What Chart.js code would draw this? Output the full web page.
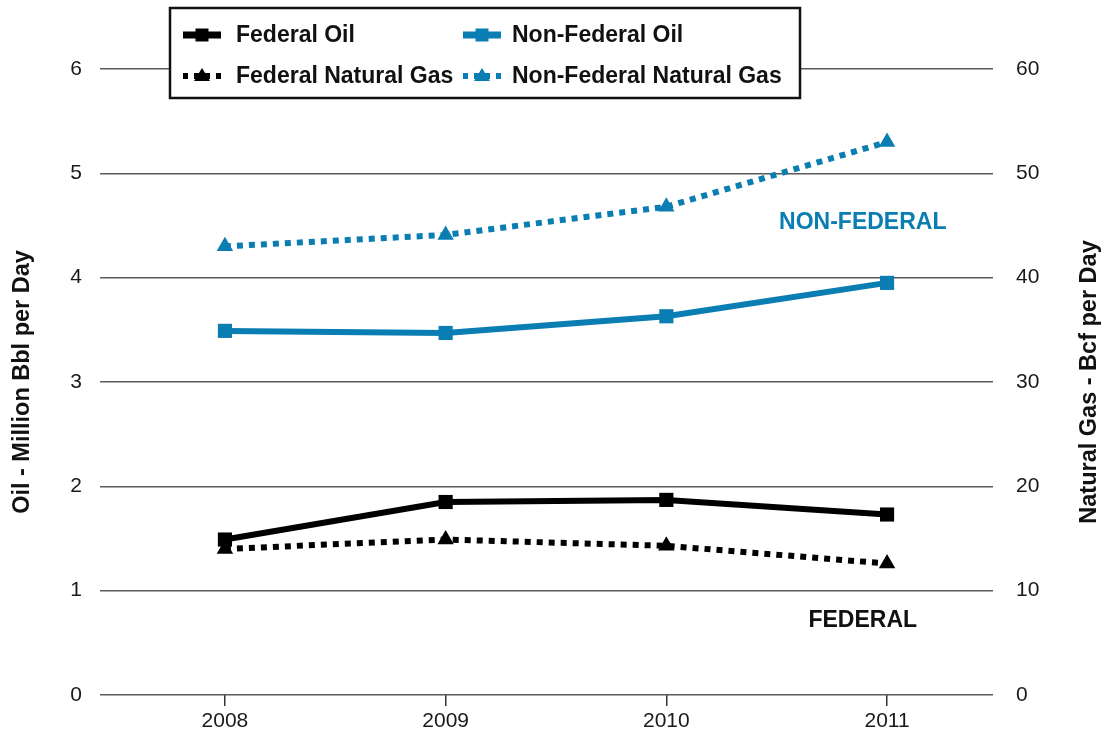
<!DOCTYPE html>
<html>
<head>
<meta charset="utf-8">
<script src="https://cdn.jsdelivr.net/npm/chart.js@4/dist/chart.umd.min.js"></script>
<style>
    html, body { margin: 0; padding: 0; background: #fff; }
    .chart-wrap { position: relative; width: 1104px; height: 741px; }
</style>
</head>
<body>
<div class="chart-wrap"><canvas id="productionChart"></canvas></div>
<script>
const years = [2008, 2009, 2010, 2011];
const federalOil = [1.49, 1.85, 1.87, 1.73];
const nonFederalOil = [3.49, 3.47, 3.63, 3.95];
const federalGas = [14.0, 14.9, 14.3, 12.6];
const nonFederalGas = [43.0, 44.1, 46.8, 53.0];
const oilTicks = [0, 1, 2, 3, 4, 5, 6];
const gasTicks = [0, 10, 20, 30, 40, 50, 60];

const oilAxisTitle = 'Oil - Million Bbl per Day';
const gasAxisTitle = 'Natural Gas - Bcf per Day';

const BLUE = '#0a7db2';
const BLACK = '#000';
const FONT = '"Liberation Sans", Arial, Helvetica, sans-serif';

const annotations = [
    { text: 'NON-FEDERAL', year: 2010.89, value: 4.53, color: BLUE },
    { text: 'FEDERAL', year: 2010.89, value: 0.71, color: '#111' }
];

function toPoints(values) {
    return years.map((year, i) => ({ x: year, y: values[i] }));
}

function oilLine(label, values, color) {
    return {
        label,
        data: toPoints(values),
        yAxisID: 'y',
        borderColor: color,
        backgroundColor: color,
        borderWidth: 6,
        pointStyle: 'rect',
        pointRadius: 10,
        pointHoverRadius: 10,
        pointBorderWidth: 0,
        tension: 0
    };
}

function gasLine(label, values, color) {
    return {
        label,
        data: toPoints(values),
        yAxisID: 'y1',
        borderColor: color,
        backgroundColor: color,
        borderWidth: 6,
        borderDash: [6, 6],
        borderCapStyle: 'butt',
        pointStyle: 'triangle',
        pointRadius: 9.5,
        pointHoverRadius: 9.5,
        pointBorderWidth: 0,
        tension: 0
    };
}

// boxed two-column legend drawn over the top gridline
const boxLegend = {
    id: 'boxLegend',
    afterDraw(chart) {
        const ctx = chart.ctx;
        const box = { left: 170, top: 8, width: 630, height: 90 };
        const cols = [{ sym: 183, text: 236 }, { sym: 463, text: 512 }];
        const rows = [35, 76];
        ctx.save();
        ctx.fillStyle = '#fff';
        ctx.fillRect(box.left, box.top, box.width, box.height);
        ctx.lineWidth = 2.5;
        ctx.strokeStyle = '#111';
        ctx.strokeRect(box.left, box.top, box.width, box.height);

        chart.data.datasets.forEach((ds, i) => {
            const col = cols[i % 2];
            const y = rows[Math.floor(i / 2)];
            const x0 = col.sym;
            const x1 = col.sym + 38;
            const cx = (x0 + x1) / 2;

            ctx.strokeStyle = ds.borderColor;
            ctx.fillStyle = ds.borderColor;
            ctx.lineWidth = ds.borderDash ? 6 : 7;
            ctx.setLineDash(ds.borderDash ? [5, 6] : []);
            ctx.beginPath();
            ctx.moveTo(x0, y);
            ctx.lineTo(x1, y);
            ctx.stroke();
            ctx.setLineDash([]);

            ctx.beginPath();
            if (ds.pointStyle === 'rect') {
                ctx.rect(cx - 6.5, y - 6.5, 13, 13);
            } else {
                ctx.moveTo(cx, y - 8);
                ctx.lineTo(cx + 8, y + 5);
                ctx.lineTo(cx - 8, y + 5);
                ctx.closePath();
            }
            ctx.fill();

            ctx.fillStyle = '#111';
            ctx.font = `bold 23px ${FONT}`;
            ctx.textAlign = 'left';
            ctx.textBaseline = 'middle';
            ctx.fillText(ds.label, col.text, y + 1);
        });
        ctx.restore();
    }
};

// text labels inside the plot and the right axis title (reads bottom to top)
const chartText = {
    id: 'chartText',
    afterDatasetsDraw(chart) {
        const ctx = chart.ctx;
        const xScale = chart.scales.x;
        const yScale = chart.scales.y;
        ctx.save();
        ctx.font = `bold 23px ${FONT}`;
        ctx.textAlign = 'center';
        ctx.textBaseline = 'middle';
        annotations.forEach(a => {
            ctx.fillStyle = a.color;
            ctx.fillText(a.text, xScale.getPixelForValue(a.year), yScale.getPixelForValue(a.value));
        });

        const right = chart.scales.y1;
        ctx.font = `bold 23.5px ${FONT}`;
        ctx.translate(right.right - 14, (right.top + right.bottom) / 2);
        ctx.rotate(-Math.PI / 2);
        ctx.fillStyle = '#111';
        ctx.fillText(gasAxisTitle, 0, 0);
        ctx.restore();
    }
};

new Chart(document.getElementById('productionChart'), {
    type: 'line',
    data: {
        datasets: [
            oilLine('Federal Oil', federalOil, BLACK),
            oilLine('Non-Federal Oil', nonFederalOil, BLUE),
            gasLine('Federal Natural Gas', federalGas, BLACK),
            gasLine('Non-Federal Natural Gas', nonFederalGas, BLUE)
        ]
    },
    options: {
        responsive: true,
        maintainAspectRatio: false,
        animation: false,
        layout: { padding: { top: 69, left: 0, right: 0, bottom: 0 } },
        plugins: {
            legend: { display: false },
            tooltip: { enabled: false }
        },
        scales: {
            x: {
                type: 'linear',
                min: 2007.434,
                max: 2011.48,
                afterBuildTicks: axis => { axis.ticks = years.map(v => ({ value: v })); },
                afterFit: scale => { scale.height = 46; },
                border: { display: false },
                grid: {
                    drawOnChartArea: false,
                    drawTicks: true,
                    tickLength: 11,
                    color: '#333',
                    lineWidth: 1.5
                },
                ticks: {
                    color: '#1a1a1a',
                    padding: 3,
                    font: { family: FONT, size: 21 },
                    callback: value => String(value)
                }
            },
            y: {
                position: 'left',
                min: 0,
                max: 6,
                afterBuildTicks: axis => { axis.ticks = oilTicks.map(v => ({ value: v })); },
                afterFit: scale => { scale.width = 100; },
                border: { display: false },
                grid: {
                    color: '#5a5a5a',
                    lineWidth: 1.5,
                    drawTicks: false
                },
                ticks: {
                    color: '#1a1a1a',
                    padding: 18,
                    font: { family: FONT, size: 21 }
                },
                title: {
                    display: true,
                    text: oilAxisTitle,
                    color: '#111',
                    padding: { top: 8, bottom: 0 },
                    font: { family: FONT, size: 23.5, weight: 'bold' }
                }
            },
            y1: {
                position: 'right',
                min: 0,
                max: 60,
                afterBuildTicks: axis => { axis.ticks = gasTicks.map(v => ({ value: v })); },
                afterFit: scale => { scale.width = 111; },
                border: { display: false },
                grid: { display: false, drawTicks: false },
                ticks: {
                    color: '#1a1a1a',
                    padding: 23,
                    font: { family: FONT, size: 21 }
                }
            }
        }
    },
    plugins: [chartText, boxLegend]
});
</script>
</body>
</html>
